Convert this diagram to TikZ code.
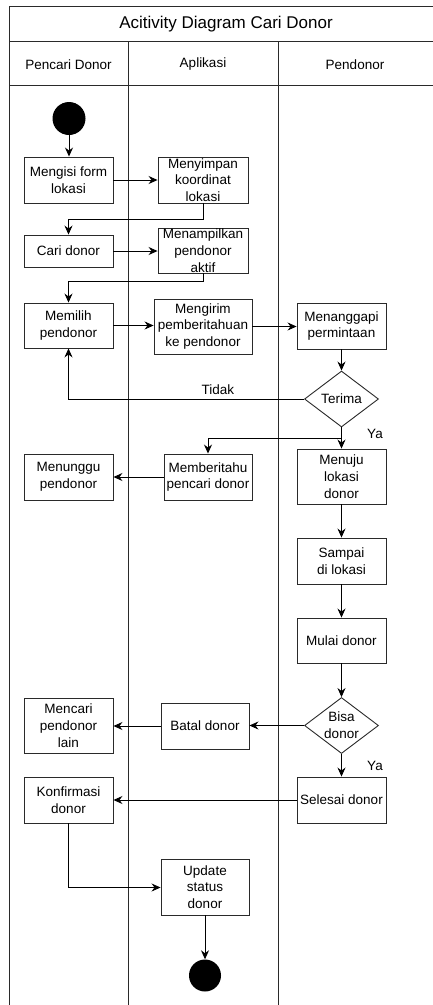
\documentclass[tikz,border=0pt]{standalone}
\usepackage{fontspec}
\setmainfont{Liberation Sans}
\usetikzlibrary{arrows.meta,shapes.geometric}
\definecolor{linec}{HTML}{2A2A2A}
\begin{document}
\begin{tikzpicture}[x=1pt,y=-1pt,
  lane/.style={draw=linec, line width=0.9pt},
  act/.style={draw=linec, line width=0.9pt, fill=white, rectangle, inner sep=0pt},
  decide/.style={draw=linec, line width=0.9pt, fill=white, diamond, inner sep=0pt, minimum width=74pt, minimum height=56pt},
  txt/.style={font=\fontsize{13.5}{16.7}\selectfont, align=center, inner sep=0pt, text=black},
  dot/.style={circle, fill=black, inner sep=0pt},
  arr/.style={draw=black, line width=0.9pt, -{Stealth[length=9pt,width=8pt,inset=3pt]}},
]
\clip (0,0) rectangle (433,1005);

% swimlane frame
\draw[lane] (9.5,1012) -- (9.5,6.5) -- (438,6.5);
\draw[lane] (9.5,41) -- (438,41);
\draw[lane] (9.5,85) -- (438,85);
\draw[lane] (128,41) -- (128,1012);
\draw[lane] (278,41) -- (278,1012);
\node[font=\fontsize{17}{20}\selectfont] (title) at (226,24.5) {Acitivity Diagram Cari Donor};
\node[txt] (h1) at (68.5,64.5) {Pencari Donor};
\node[txt] (h2) at (203,64.5) {Aplikasi};
\node[txt] (h3) at (355,64.5) {Pendonor};

% activities
\node[dot, minimum size=33pt] (start) at (69,118.5) {};
\node[act, minimum width=89pt, minimum height=46pt, label={[txt]center:{Mengisi form\\lokasi}}] (isi) at (68.5,180) {};
\node[act, minimum width=90pt, minimum height=46pt, label={[txt]center:{Menyimpan\\koordinat\\lokasi}}] (simpan) at (203,180) {};
\node[act, minimum width=89pt, minimum height=32pt, label={[txt]center:{Cari donor}}] (cari) at (68.5,251) {};
\node[act, minimum width=90pt, minimum height=45pt, label={[txt]center:{Menampilkan\\pendonor\\aktif}}] (tampil) at (203,250.5) {};
\node[act, minimum width=89pt, minimum height=45pt, label={[txt]center:{Memilih\\pendonor}}] (pilih) at (68.5,325.5) {};
\node[act, minimum width=98pt, minimum height=55pt, label={[txt]center:{Mengirim\\pemberitahuan\\ke pendonor}}] (kirim) at (203,326.5) {};
\node[act, minimum width=89pt, minimum height=46pt, label={[txt]center:{Menanggapi\\permintaan}}] (tanggap) at (341.5,326) {};
\node[decide, label={[txt]center:{Terima}}] (terima) at (341.5,399) {};
\node[act, minimum width=89pt, minimum height=55pt, label={[txt]center:{Menuju\\lokasi\\donor}}] (menuju) at (341.5,476.5) {};
\node[act, minimum width=88pt, minimum height=46pt, label={[txt]center:{Memberitahu\\pencari donor}}] (beritahu) at (208,477) {};
\node[act, minimum width=89pt, minimum height=46pt, label={[txt]center:{Menunggu\\pendonor}}] (tunggu) at (68.5,477) {};
\node[act, minimum width=89pt, minimum height=46pt, label={[txt]center:{Sampai\\di lokasi}}] (sampai) at (341.5,561) {};
\node[act, minimum width=89pt, minimum height=45pt, label={[txt]center:{Mulai donor}}] (mulai) at (341.5,640.5) {};
\node[decide, label={[txt]center:{Bisa\\donor}}] (bisa) at (341.5,725.5) {};
\node[act, minimum width=88pt, minimum height=46pt, label={[txt]center:{Batal donor}}] (batal) at (205,726) {};
\node[act, minimum width=89pt, minimum height=55pt, label={[txt]center:{Mencari\\pendonor\\lain}}] (carilain) at (68.5,725.5) {};
\node[act, minimum width=89pt, minimum height=46pt, label={[txt]center:{Selesai donor}}] (selesai) at (341.5,800) {};
\node[act, minimum width=89pt, minimum height=46pt, label={[txt]center:{Konfirmasi\\donor}}] (konfirm) at (68.5,800) {};
\node[act, minimum width=88pt, minimum height=56pt, label={[txt]center:{Update\\status\\donor}}] (update) at (205,887) {};
\node[dot, minimum size=32pt] (end) at (205,975.5) {};

% bend points
\coordinate (b1) at (203,219);
\coordinate (b2) at (203,281.5);
\coordinate (split) at (341.5,438);
\coordinate (b3) at (68.5,887.5);

% flows
\draw[arr] (start.south) -- (start.south |- isi.north);
\draw[arr] (isi.east) -- (simpan.west);
\draw[arr] (simpan.south) -- (b1) -| (cari.north);
\draw[arr] (cari.east) -- (cari.east -| tampil.west);
\draw[arr] (tampil.south) -- (b2) -| (pilih.north);
\draw[arr] (pilih.east) -- (pilih.east -| kirim.west);
\draw[arr] (kirim.east) -- (kirim.east -| tanggap.west);
\draw[arr] (tanggap.south) -- (terima.north);
\draw[arr] (terima.west) -| node[txt, pos=0.183, above=4pt] (tidak) {Tidak} (pilih.south);
\draw[arr] (terima.south) -- (menuju.north);
\draw[arr] (split) -| (beritahu.north);
\node[txt] (ya1) at (375,433.5) {Ya};
\draw[arr] (beritahu.west) -- (beritahu.west -| tunggu.east);
\draw[arr] (menuju.south) -- (sampai.north);
\draw[arr] (sampai.south) -- (mulai.north);
\draw[arr] (mulai.south) -- (bisa.north);
\draw[arr] (bisa.west) -- (bisa.west -| batal.east);
\draw[arr] (batal.west) -- (batal.west -| carilain.east);
\draw[arr] (bisa.south) -- (selesai.north);
\node[txt] (ya2) at (375,765.5) {Ya};
\draw[arr] (selesai.west) -- (selesai.west -| konfirm.east);
\draw[arr] (konfirm.south) -- (b3) -- (b3 -| update.west);
\draw[arr] (update.south) -- (end.north);
\end{tikzpicture}
\end{document}
